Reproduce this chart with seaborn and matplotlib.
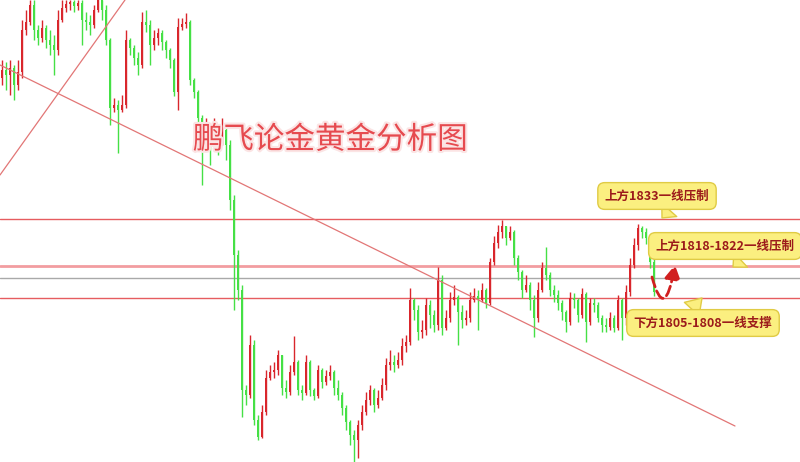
import numpy as np
import pandas as pd
import seaborn as sns
import matplotlib.pyplot as plt
import matplotlib.patheffects as pe

# gold price candles (1 unit ~ 4 px)
closes = [1870.5, 1869.25, 1871, 1866.75, 1870, 1880.5, 1882.5, 1886.75, 1880.5, 1878.5,
          1881, 1878, 1876.75, 1875.5, 1883, 1886, 1887, 1887.5, 1886.5, 1887.25,
          1883, 1882.5, 1881.75, 1885.5, 1888, 1885.5, 1878, 1861, 1861.75, 1860.5,
          1861.75, 1878, 1876, 1873.5, 1871.75, 1882.5, 1881.75, 1876.75, 1878.5, 1879.75,
          1877.5, 1875.5, 1873, 1865, 1881.25, 1882, 1882.5, 1868, 1865, 1858.5,
          1854.25, 1856, 1851.75, 1855.5, 1853, 1855.5, 1851.75, 1838, 1824.25, 1815.5,
          1790.5, 1789.25, 1801.75, 1783, 1778.75, 1785, 1793.5, 1795, 1795.5, 1799.25,
          1791, 1790, 1795, 1797.5, 1790.5, 1789.75, 1797.5, 1790.5, 1789, 1795.5,
          1792.5, 1794, 1795, 1791, 1789.25, 1786, 1782.5, 1779.25, 1778, 1781.75,
          1785, 1788, 1790.5, 1786.75, 1788.5, 1791.75, 1796.75, 1797.5, 1796.75, 1798,
          1801.5, 1802.5, 1813, 1810.5, 1805, 1805.5, 1811.75, 1809.25, 1806.75, 1818,
          1806, 1808.5, 1813, 1813.75, 1810, 1808, 1808.5, 1813, 1814, 1813,
          1815.5, 1812.25, 1822.5, 1827.25, 1830, 1831.5, 1828.5, 1830, 1823.5, 1820,
          1815.5, 1816.75, 1813, 1808.5, 1815.5, 1821, 1819.25, 1815.5, 1814.25, 1812.25,
          1810, 1807.5, 1813.5, 1813, 1809.25, 1814.5, 1807.5, 1812.25, 1811.75, 1808.5,
          1806.75, 1806.25, 1808.5, 1806, 1813, 1808.5, 1815, 1821.75, 1826.75, 1831,
          1830, 1828.5, 1822.5, 1815]
highs = [1873, 1872.5, 1873, 1871.75, 1873, 1883, 1885.5, 1888, 1888, 1881.75,
         1883, 1881.75, 1880.5, 1879.25, 1885.5, 1888, 1888, 1888, 1888, 1888,
         1888, 1885, 1884.25, 1886.75, 1888.5, 1888, 1886.75, 1878.5, 1863.5, 1863,
         1864.25, 1880.5, 1878.5, 1876.75, 1875, 1885, 1885.5, 1883, 1880.5, 1881,
         1880.5, 1878, 1876, 1873.5, 1883.5, 1883.5, 1884.75, 1883, 1868.5, 1865.5,
         1859.25, 1858.5, 1856.75, 1858.5, 1856.75, 1858.5, 1856, 1853, 1839.25, 1825.5,
         1816.75, 1791.75, 1804.25, 1803, 1784.25, 1786.75, 1795.5, 1796.75, 1797.5, 1800.5,
         1799.25, 1793, 1796.75, 1804, 1798, 1791.75, 1799.25, 1798, 1791, 1796.75,
         1796, 1795.5, 1796.75, 1795.5, 1793, 1790, 1786.75, 1783, 1780.5, 1783,
         1786.75, 1790, 1791.75, 1791, 1790.5, 1793.5, 1798.5, 1800.5, 1799.25, 1800,
         1803.5, 1804.25, 1816, 1813.5, 1811.75, 1808, 1813.5, 1813, 1810.5, 1821.25,
         1819.25, 1810.5, 1815, 1816.75, 1814.25, 1811.75, 1810.5, 1815, 1816, 1815.5,
         1817.25, 1816, 1823.5, 1829, 1831.75, 1833, 1831, 1831.5, 1830.5, 1824.25,
         1820.5, 1819.25, 1817.5, 1814.25, 1817.5, 1822.5, 1826.25, 1820, 1816.75, 1815.5,
         1813, 1810.5, 1815, 1814.75, 1813.5, 1816, 1815, 1813.5, 1813.5, 1812.5,
         1809.25, 1808.5, 1810, 1809.25, 1814.25, 1813.5, 1816.75, 1823.5, 1828.5, 1832,
         1831.5, 1831, 1829.25, 1823.5]
lows = [1866.75, 1865.5, 1864.25, 1863, 1865.5, 1868.5, 1879.25, 1881.75, 1878, 1876.75,
        1877.5, 1876, 1874.25, 1869.25, 1874.25, 1882.5, 1885, 1885.5, 1885, 1885.5,
        1876.75, 1880.5, 1879.25, 1881, 1885, 1883, 1876.75, 1856.75, 1860, 1849.75,
        1860, 1861, 1874.25, 1871.75, 1869.25, 1871, 1880, 1871.75, 1875.5, 1876.75,
        1875.5, 1873.5, 1871, 1864, 1860.5, 1880.5, 1881, 1866.75, 1863.5, 1854.25,
        1841.75, 1850.5, 1846.75, 1851, 1849.25, 1851.75, 1848, 1835.5, 1810.5, 1813,
        1783.75, 1786.75, 1788.5, 1781.75, 1778, 1778.5, 1784.25, 1793, 1793.5, 1794.25,
        1789.25, 1788.5, 1789.25, 1794.25, 1789.25, 1788, 1789.25, 1789, 1788, 1788.5,
        1791, 1791.75, 1793, 1789.25, 1788, 1784.25, 1780.5, 1776.75, 1772.5, 1773.5,
        1780.5, 1784.25, 1786.75, 1785, 1786, 1788, 1790.5, 1795.5, 1795, 1796,
        1796.75, 1800, 1801.75, 1808, 1803, 1803.5, 1804.25, 1806, 1805, 1805.5,
        1804.25, 1805.5, 1807.5, 1811.75, 1801.75, 1806, 1806.75, 1807.5, 1812.5, 1805.5,
        1812.5, 1811, 1811.75, 1821.75, 1826, 1828.5, 1826.75, 1828, 1821.75, 1818,
        1813.5, 1815, 1810.5, 1803.75, 1807.5, 1815, 1818, 1814, 1812.5, 1810.5,
        1808, 1805, 1806.75, 1811, 1807.5, 1808.5, 1802.5, 1806.75, 1810, 1807.5,
        1805, 1805, 1805.5, 1805, 1805.5, 1803, 1806.75, 1814, 1821, 1825.5,
        1828.5, 1827, 1821, 1814]
first_open = 1868.5

# support / resistance levels and trend lines
resist_top = 1833.25
resist_zone = [1821.5, 1818.5]
support_level = 1813.5
trend_down_x = [-0.5, 183.25]
trend_down_y = [1871.75, 1781.5]
trend_up_x = [-0.5, 30.75]
trend_up_y = [1844.25, 1888.0]

title_text = '鹏飞论金黄金分析图'
notes = ['上方1833一线压制', '上方1818-1822一线压制', '下方1805-1808一线支撑']
note_pos = [(163.75, 1839.0), (180.75, 1826.5), (175.25, 1807.25)]
note_tip = [(165.0, 1833.5), (182.75, 1821.25), (175.0, 1813.5)]
note_base = [(0.68, 0.0), (0.67, 0.0), (0.37, 1.0)]

# expected move: dip to support, then bounce
path_start = (162.5, 1818.75)
path_end = (168.25, 1821.75)

df = pd.DataFrame({'close': closes, 'high': highs, 'low': lows})
df['open'] = [first_open] + closes[:-1]
df['idx'] = np.arange(len(df))
df['color'] = np.where(df['close'] >= df['open'], '#d9262c', '#45e045')
body_lo = np.minimum(df['open'], df['close'])
body_hi = np.maximum(df['open'], df['close'])

sns.set_theme(style='white')
plt.rcParams['font.family'] = ['Noto Sans CJK SC', 'DejaVu Sans']

fig = plt.figure(figsize=(8, 4.62), dpi=100)
ax = fig.add_axes([0, 0, 1, 1])
ax.set_facecolor('white')

ax.axhline(resist_top, color='#e65c60', lw=1, zorder=1)
ax.axhline(resist_zone[0], color='#f29da0', lw=2, zorder=1)
ax.axhline(resist_zone[1], color='#a9a9a9', lw=1, zorder=1)
ax.axhline(support_level, color='#e65c60', lw=1, zorder=1)

ax.vlines(df['idx'], np.minimum(df['low'], body_lo), np.maximum(df['high'], body_hi),
          colors=df['color'], lw=1, zorder=2)
ax.bar(df['idx'], np.maximum(body_hi - body_lo, 0.25), bottom=body_lo, width=0.7,
       color=df['color'], linewidth=0, zorder=2)

sns.lineplot(x=trend_down_x, y=trend_down_y, color='#e27676', lw=0.9, ax=ax, zorder=3)
sns.lineplot(x=trend_up_x, y=trend_up_y, color='#e27676', lw=0.9, ax=ax, zorder=3)

ax.text(82, 1853, title_text, fontsize=22, color='#e64a4f', ha='center', va='center', zorder=5,
        path_effects=[pe.withStroke(linewidth=3, foreground='#fbe4e4')])

for txt, pos, tip, base in zip(notes, note_pos, note_tip, note_base):
    ax.annotate(txt, xy=tip, xytext=pos, ha='center', va='center', fontsize=9,
                fontweight='bold', color='#9c1b1b', zorder=6,
                bbox=dict(boxstyle='round,pad=0.55', fc='#fbef80', ec='#e0cb45', lw=1),
                arrowprops=dict(arrowstyle='wedge,tail_width=1.6,shrink_factor=0.5',
                                fc='#fbef80', ec='#e0cb45', lw=1, relpos=base,
                                shrinkA=0, shrinkB=0))

ax.annotate('', xy=path_end, xytext=path_start, zorder=6,
            arrowprops=dict(arrowstyle='-|>,head_length=0.7,head_width=0.4', color='#d11f1f',
                            lw=2, linestyle='--', mutation_scale=12, shrinkA=0, shrinkB=0,
                            connectionstyle='angle3,angleA=-75,angleB=-100'))

ax.set_xlim(-0.5, 199.5)
ax.set_ylim(1772.5, 1888)
ax.set_xticks([])
ax.set_yticks([])
sns.despine(ax=ax, top=True, right=True, left=True, bottom=True)

fig.savefig('out.png', dpi=100)
